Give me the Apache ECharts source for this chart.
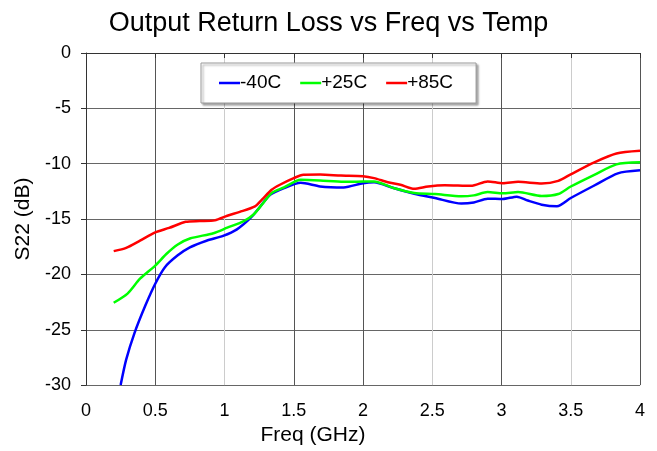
<!DOCTYPE html>
<html>
<head>
<meta charset="utf-8">
<script src="https://cdn.jsdelivr.net/npm/echarts@6/dist/echarts.min.js"></script>
<style>
  html, body { margin: 0; padding: 0; background: #fff; }
  #chart { width: 657px; height: 451px; }
</style>
</head>
<body>
<div id="chart"></div>
<script>
// -40C
const freqCold = [0.25, 0.29, 0.35, 0.43, 0.5, 0.57, 0.66, 0.75, 0.87, 0.99, 1.09, 1.19, 1.26, 1.33, 1.43, 1.55, 1.69, 1.86, 2.0, 2.08, 2.22, 2.37, 2.52, 2.71, 2.8, 2.9, 3.01, 3.11, 3.19, 3.29, 3.4, 3.5, 3.67, 3.84, 4.0];
const s22Cold = [-30, -27.7, -25.3, -22.77, -20.84, -19.35, -18.3, -17.56, -16.96, -16.52, -15.93, -14.88, -13.84, -12.8, -12.2, -11.73, -12.05, -12.14, -11.76, -11.67, -12.2, -12.71, -13.1, -13.6, -13.5, -13.16, -13.19, -12.98, -13.33, -13.7, -13.84, -13.1, -11.97, -10.87, -10.6];
// +25C
const freqRoom = [0.2, 0.3, 0.39, 0.5, 0.58, 0.66, 0.75, 0.92, 1.02, 1.14, 1.21, 1.27, 1.34, 1.43, 1.55, 1.69, 1.86, 2.0, 2.08, 2.22, 2.37, 2.52, 2.71, 2.8, 2.9, 3.01, 3.12, 3.29, 3.41, 3.5, 3.67, 3.83, 4.0];
const s22Room = [-22.56, -21.73, -20.39, -19.2, -18.16, -17.32, -16.76, -16.28, -15.78, -15.18, -14.59, -13.7, -12.65, -12.14, -11.46, -11.52, -11.64, -11.6, -11.6, -12.2, -12.65, -12.74, -12.95, -12.86, -12.56, -12.68, -12.56, -12.92, -12.74, -12.06, -11.0, -10.06, -9.88];
// +85C
const freqHot = [0.2, 0.29, 0.39, 0.5, 0.6, 0.72, 0.82, 0.93, 1.02, 1.11, 1.22, 1.27, 1.34, 1.4, 1.5, 1.57, 1.69, 1.84, 2.0, 2.08, 2.18, 2.27, 2.37, 2.47, 2.59, 2.78, 2.9, 3.01, 3.12, 3.29, 3.41, 3.5, 3.67, 3.83, 4.0];
const s22Hot = [-17.9, -17.6, -16.95, -16.2, -15.8, -15.25, -15.18, -15.12, -14.7, -14.35, -13.85, -13.25, -12.35, -11.9, -11.3, -11.0, -10.98, -11.07, -11.13, -11.3, -11.67, -11.9, -12.27, -12.05, -11.94, -12.0, -11.6, -11.76, -11.64, -11.79, -11.55, -10.96, -9.88, -9.08, -8.84];

const seriesNames = ['-40C', '+25C', '+85C'];
const seriesColors = ['#0000ff', '#00ff00', '#ff0000'];

const pairs = (xs, ys) => xs.map((x, i) => [x, ys[i]]);

const font = 'Liberation Sans, Arial, sans-serif';
const chart = echarts.init(document.getElementById('chart'));

chart.setOption({
  animation: false,
  title: {
    text: 'Output Return Loss vs Freq vs Temp',
    left: 'center',
    top: 5,
    textStyle: { fontFamily: font, fontSize: 27, fontWeight: 'normal', color: '#000' }
  },
  legend: {
    left: 201,
    top: 63,
    padding: [10, 23, 10, 18],
    itemWidth: 21,
    itemHeight: 10,
    itemGap: 19,
    backgroundColor: '#fff',
    borderColor: '#999',
    borderWidth: 1,
    shadowColor: 'rgba(0,0,0,0.35)',
    shadowBlur: 2,
    shadowOffsetX: 2,
    shadowOffsetY: 2,
    textStyle: { fontFamily: font, fontSize: 19, color: '#000', lineHeight: 20, padding: [0, 0, 0, -5] },
    data: seriesNames.map(n => ({ name: n, icon: 'path://M0,0 L21,0 L21,2.5 L0,2.5 Z' }))
  },
  grid: { left: 86, right: 17, top: 53, bottom: 62 },
  xAxis: {
    type: 'value',
    min: 0, max: 4, interval: 0.5,
    name: 'Freq (GHz)',
    nameLocation: 'middle',
    nameGap: 37,
    nameTextStyle: { fontFamily: font, fontSize: 21, color: '#000', padding: [0, 100, 0, 0] },
    axisLine: { show: true, lineStyle: { color: '#333', width: 1 } },
    axisTick: { show: true, length: 5, lineStyle: { color: '#333' } },
    axisLabel: { fontFamily: font, fontSize: 18, color: '#000', margin: 17 },
    splitLine: {
      show: true,
      lineStyle: { color: ['#555', '#555', '#ccc', '#555', '#555', '#ccc', '#555', '#ccc', '#555'], width: 1 }
    }
  },
  yAxis: {
    type: 'value',
    min: -30, max: 0, interval: 5,
    name: 'S22 (dB)',
    nameLocation: 'middle',
    nameGap: 51,
    nameTextStyle: { fontFamily: font, fontSize: 21, color: '#000' },
    axisLine: { show: true, lineStyle: { color: '#333', width: 1 } },
    axisTick: { show: true, length: 5, lineStyle: { color: '#333' } },
    axisLabel: { fontFamily: font, fontSize: 18, color: '#000', margin: 15 },
    splitLine: { show: true, lineStyle: { color: '#666', width: 1 } }
  },
  series: [
    { name: seriesNames[0], data: pairs(freqCold, s22Cold) },
    { name: seriesNames[1], data: pairs(freqRoom, s22Room) },
    { name: seriesNames[2], data: pairs(freqHot, s22Hot) }
  ].map((s, i) => ({
    ...s,
    type: 'line',
    smooth: 0.25,
    showSymbol: false,
    clip: true,
    color: seriesColors[i],
    lineStyle: { color: seriesColors[i], width: 2.5 }
  }))
});
</script>
</body>
</html>
